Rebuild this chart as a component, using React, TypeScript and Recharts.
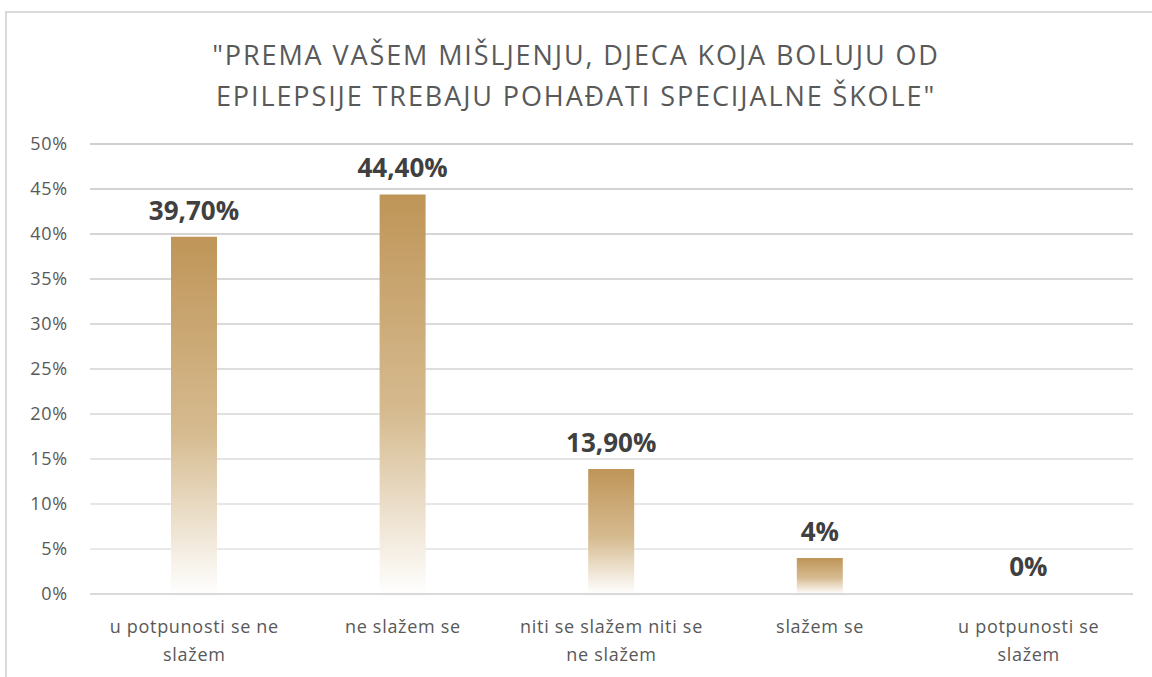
import { BarChart, Bar, XAxis, YAxis, CartesianGrid, LabelList, Cell } from 'recharts';

const categories = [
  'u potpunosti se ne\nslažem',
  'ne slažem se',
  'niti se slažem niti se\nne slažem',
  'slažem se',
  'u potpunosti se\nslažem',
];
const values = [39.7, 44.4, 13.9, 4, 0];
const yTicks = [0, 5, 10, 15, 20, 25, 30, 35, 40, 45, 50];
const titleLines = [
  '"PREMA VAŠEM MIŠLJENJU, DJECA KOJA BOLUJU OD',
  'EPILEPSIJE TREBAJU POHAĐATI SPECIJALNE ŠKOLE"',
];

const data = categories.map((name, i) => ({ name, value: values[i] }));

const FONT = '"Open Sans", sans-serif';

const formatPct = (v: number) =>
  Number.isInteger(v) ? `${v}%` : `${v.toFixed(2).replace('.', ',')}%`;

const CategoryTick = (props: any) => {
  const { x, y, payload } = props;
  const lines = String(payload.value).split('\n');
  return (
    <g transform={`translate(${x},${y})`}>
      {lines.map((line: string, i: number) => (
        <text
          key={i}
          x={0}
          y={i * 28}
          dy={31}
          textAnchor="middle"
          fill="#595959"
          fontSize={18}
          letterSpacing={0.7}
          fontFamily={FONT}
        >
          {line}
        </text>
      ))}
    </g>
  );
};

export default function App() {
  return (
    <div
      style={{
        position: 'absolute',
        left: 0,
        top: 0,
        width: 1152,
        height: 677,
        overflow: 'hidden',
        background: '#fff',
      }}
    >
      {/* chart frame */}
      <div
        style={{
          position: 'absolute',
          left: 5,
          top: 11,
          width: 1200,
          height: 700,
          border: '2px solid #d9d9d9',
        }}
      />
      {/* title */}
      <div
        style={{
          position: 'absolute',
          left: 0,
          top: 34,
          width: 1152,
          textAlign: 'center',
          fontFamily: FONT,
          fontSize: 27,
          lineHeight: '41px',
          color: '#595959',
          letterSpacing: 1.9,
        }}
      >
        {titleLines.map((l, i) => (
          <div key={i}>{l}</div>
        ))}
      </div>
      <div style={{ position: 'absolute', left: 0, top: 0 }}>
        <BarChart
          width={1152}
          height={677}
          data={data}
          margin={{ top: 144, right: 19, bottom: 53, left: 30 }}
        >
          <defs>
            <linearGradient id="barGrad" x1="0" y1="0" x2="0" y2="1">
              <stop offset="0%" stopColor="#bf9558" />
              <stop offset="55%" stopColor="#d6bb90" />
              <stop offset="100%" stopColor="#ffffff" />
            </linearGradient>
            <linearGradient
              id="gridGrad"
              gradientUnits="userSpaceOnUse"
              x1="0"
              y1="144"
              x2="0"
              y2="594"
            >
              <stop offset="0%" stopColor="#cfcfcf" />
              <stop offset="100%" stopColor="#ececec" />
            </linearGradient>
          </defs>
          <CartesianGrid vertical={false} stroke="url(#gridGrad)" strokeWidth={2} />
          <XAxis
            dataKey="name"
            axisLine={{ stroke: '#d9d9d9', strokeWidth: 2 }}
            tickLine={false}
            tick={<CategoryTick />}
            interval={0}
          />
          <YAxis
            width={60}
            domain={[0, 50]}
            ticks={yTicks}
            tickFormatter={(v: number) => `${v}%`}
            axisLine={false}
            tickLine={false}
            tickSize={0}
            tickMargin={22}
            tick={{ fill: '#595959', fontSize: 18, fontFamily: FONT, letterSpacing: 0.8 }}
          />
          <Bar
            dataKey="value"
            fill="url(#barGrad)"
            barSize={46}
            minPointSize={(v: number) => (v === 0 ? 1 : 0)}
            isAnimationActive={false}
          >
            {values.map((v, i) => (
              <Cell key={i} fill={v === 0 ? 'transparent' : 'url(#barGrad)'} />
            ))}
            <LabelList
              dataKey="value"
              position="top"
              offset={17}
              formatter={(v: any) => formatPct(Number(v))}
              fill="#404040"
              fontSize={26}
              fontWeight="bold"
              fontFamily={FONT}
            />
          </Bar>
        </BarChart>
      </div>
    </div>
  );
}
